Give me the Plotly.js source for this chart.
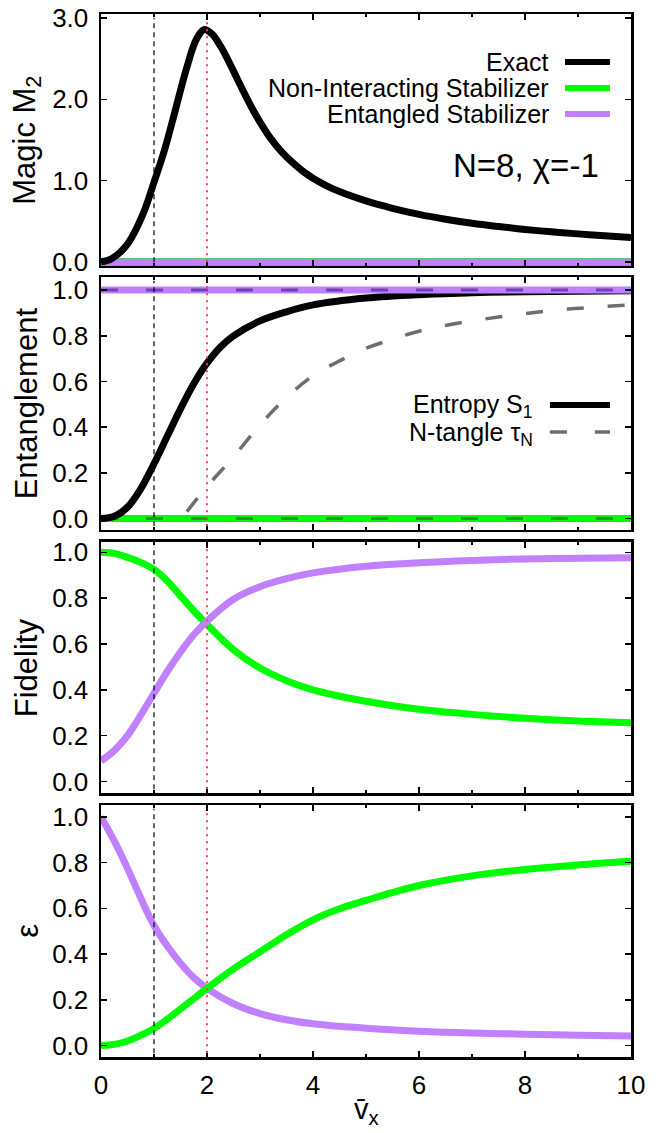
<!DOCTYPE html>
<html>
<head>
<meta charset="utf-8">
<script src="https://cdn.plot.ly/plotly-3.0.1.min.js"></script>
<style>html,body{margin:0;padding:0;background:#fff;}#chart{width:658px;height:1133px;}</style>
</head>
<body>
<div id="chart"></div>
<script>
// ---------- data ----------
const xFlat = [0, 10];
const stabZero = [0, 0];
const stabOne = [1, 1];
const refLines = [1, 2];

// Panel 1: Magic M2 (exact)
const xMagic = [0, 0.2, 0.5, 0.8, 1.0, 1.2, 1.4, 1.6, 1.8, 1.95, 2.1, 2.25, 2.4, 2.55, 2.7, 2.85, 3.0, 3.2, 3.4, 3.6, 3.8, 4.0, 4.25, 4.5, 5.0, 5.5, 6.0, 6.5, 7.0, 7.5, 8.0, 8.5, 9.0, 9.5, 10];
const magicExact = [0, 0.04, 0.22, 0.6, 0.98, 1.38, 1.86, 2.35, 2.74, 2.86, 2.80, 2.66, 2.48, 2.28, 2.08, 1.89, 1.72, 1.52, 1.36, 1.23, 1.12, 1.03, 0.94, 0.865, 0.75, 0.66, 0.585, 0.525, 0.475, 0.435, 0.40, 0.37, 0.345, 0.322, 0.30];

// Panel 2: Entanglement
const xEntropy = [0, 0.25, 0.5, 0.75, 1, 1.25, 1.5, 1.75, 2, 2.25, 2.5, 3, 3.5, 4, 5, 6, 7, 8, 10];
const entropyExact = [0, 0.01, 0.05, 0.13, 0.24, 0.36, 0.48, 0.59, 0.68, 0.75, 0.80, 0.865, 0.905, 0.935, 0.965, 0.98, 0.988, 0.993, 0.997];
const xTangle = [1.62, 2, 2.5, 3, 3.5, 4, 4.5, 5, 5.5, 6, 6.5, 7, 7.5, 8, 8.5, 9, 9.5, 10];
const tangleExact = [0.03, 0.14, 0.27, 0.41, 0.53, 0.625, 0.69, 0.745, 0.785, 0.82, 0.845, 0.865, 0.882, 0.897, 0.91, 0.92, 0.928, 0.935];

// Panel 3: Fidelity
const xFid = [0, 0.25, 0.5, 0.75, 1, 1.25, 1.5, 1.75, 2, 2.5, 3, 3.5, 4, 5, 6, 7, 8, 9, 10];
const fidNonInt = [1.0, 0.995, 0.978, 0.956, 0.925, 0.875, 0.81, 0.745, 0.685, 0.575, 0.495, 0.44, 0.40, 0.35, 0.315, 0.293, 0.276, 0.264, 0.257];
const fidEnt = [0.09, 0.135, 0.2, 0.29, 0.385, 0.48, 0.565, 0.64, 0.70, 0.795, 0.85, 0.885, 0.91, 0.939, 0.954, 0.964, 0.971, 0.974, 0.976];

// Panel 4: epsilon
const xEps = [0, 0.25, 0.5, 0.75, 1, 1.25, 1.5, 1.75, 2, 2.5, 3, 3.5, 4, 4.5, 5, 6, 7, 8, 9, 10];
const epsNonInt = [0.0, 0.005, 0.02, 0.045, 0.075, 0.115, 0.16, 0.205, 0.25, 0.335, 0.41, 0.485, 0.55, 0.598, 0.635, 0.70, 0.742, 0.77, 0.79, 0.806];
const epsEnt = [1.0, 0.895, 0.775, 0.645, 0.525, 0.435, 0.36, 0.297, 0.25, 0.183, 0.14, 0.113, 0.095, 0.084, 0.076, 0.063, 0.055, 0.05, 0.045, 0.042];

// ---------- styles ----------
const GREEN = '#00ff00';
const PURPLE = '#c080ff';
const DKGREEN = '#2f8f2f';
const DKPURPLE = '#6a44b4';
const GRAY = '#6e6e6e';
const FONT = 'Liberation Sans, Arial, Helvetica, sans-serif';
const LW = 7;

function line(x, y, ax, color, width, dash, spline) {
  return {x: x, y: y, xaxis: 'x' + ax, yaxis: 'y' + ax, mode: 'lines', type: 'scatter',
    line: {color: color, width: width, dash: dash || 'solid', shape: spline ? 'spline' : 'linear', smoothing: 1},
    hoverinfo: 'skip', showlegend: false};
}

const traces = [
  // panel 1
  line(xFlat, stabZero, '', GREEN, LW + 1),
  line(xFlat, stabZero, '', PURPLE, LW),
  line(xMagic, magicExact, '', 'black', 7, null, true),
  // panel 2
  line(xFlat, stabZero, '2', GREEN, LW),
  line(xFlat, stabZero, '2', DKGREEN, 3, '17px,28px'),
  line(xTangle, tangleExact, '2', GRAY, 3.5, '17px,24px', true),
  line(xEntropy, entropyExact, '2', 'black', 7, null, true),
  line(xFlat, stabOne, '2', PURPLE, LW),
  line(xFlat, stabOne, '2', DKPURPLE, 3, '17px,28px'),
  // panel 3
  line(xFid, fidNonInt, '3', GREEN, LW, null, true),
  line(xFid, fidEnt, '3', PURPLE, LW, null, true),
  // panel 4
  line(xEps, epsEnt, '4', PURPLE, LW, null, true),
  line(xEps, epsNonInt, '4', GREEN, LW, null, true)
];

const tickFont = {family: FONT, size: 26, color: 'black'};

function xax(show, anchor) {
  return {range: [0, 10], dtick: 2, tick0: 0, ticks: 'inside', ticklen: 6, tickwidth: 1.5, tickcolor: 'black',
    minor: {dtick: 1, tick0: 0, ticks: 'inside', ticklen: 3, tickwidth: 1.5, tickcolor: 'black'},
    showline: true, linewidth: 2.5, linecolor: 'black', mirror: 'ticks', showgrid: false, zeroline: false,
    showticklabels: show, tickfont: tickFont, ticklabelstandoff: 3, anchor: anchor,
    matches: anchor === 'y' ? undefined : 'x'};
}
function yax(range, dtick, domain, anchor) {
  return {range: range, dtick: dtick, tick0: 0, tickformat: '.1f', ticks: 'inside', ticklen: 6, tickwidth: 1.5,
    tickcolor: 'black', showline: true, linewidth: 2.5, linecolor: 'black', mirror: 'ticks', showgrid: false,
    zeroline: false, tickfont: tickFont, ticklabelstandoff: 5, domain: domain, anchor: anchor};
}

const layout = {
  width: 658, height: 1133,
  margin: {l: 101, r: 27, t: 14, b: 76},
  paper_bgcolor: 'white', plot_bgcolor: 'white',
  font: {family: FONT, color: 'black'},
  showlegend: false,
  xaxis: xax(false, 'y'),
  xaxis2: xax(false, 'y2'),
  xaxis3: xax(false, 'y3'),
  xaxis4: xax(true, 'y4'),
  yaxis: yax([-0.05, 3.05], 1, [0.7584, 1.0], 'x'),
  yaxis2: yax([-0.05, 1.057], 0.2, [0.5053, 0.7478], 'x2'),
  yaxis3: yax([-0.05, 1.045], 0.2, [0.2531, 0.4938], 'x3'),
  yaxis4: yax([-0.05, 1.052], 0.2, [0.0, 0.2416], 'x4'),
  shapes: [],
  annotations: []
};

// reference vertical lines in every panel
['', '2', '3', '4'].forEach(function (ax) {
  layout.shapes.push({type: 'line', xref: 'x' + ax, yref: 'y' + ax + ' domain', x0: refLines[0], x1: refLines[0], y0: 0.015, y1: 0.985,
    line: {color: 'black', width: 1.2, dash: '5px,4px'}, layer: 'above'});
  layout.shapes.push({type: 'line', xref: 'x' + ax, yref: 'y' + ax + ' domain', x0: refLines[1], x1: refLines[1], y0: 0.015, y1: 0.985,
    line: {color: '#ff4545', width: 2, dash: '2px,5px'}, layer: 'above'});
});

// y-axis titles
const yTitles = ['Magic M<sub>2</sub>', 'Entanglement', 'Fidelity', 'ε'];
['', '2', '3', '4'].forEach(function (ax, i) {
  layout.annotations.push({text: yTitles[i], xref: 'paper', yref: 'y' + ax + ' domain', x: -0.14, y: 0.5,
    xanchor: 'center', yanchor: 'middle', textangle: -90, showarrow: false,
    font: {family: FONT, size: 31, color: 'black'}});
});
// x-axis title
layout.annotations.push({text: 'v̄<sub>x</sub>', xref: 'x4 domain', yref: 'paper', x: 0.5, y: -0.052,
  xanchor: 'center', yanchor: 'middle', showarrow: false, font: {family: FONT, size: 29, color: 'black'}});

// panel 1 legend
const leg1 = [['Exact', 'black', 0.8095], ['Non-Interacting Stabilizer', GREEN, 0.7063], ['Entangled Stabilizer', PURPLE, 0.603]];
leg1.forEach(function (l) {
  layout.annotations.push({text: l[0], xref: 'x domain', yref: 'y domain', x: 0.849, y: l[2], xanchor: 'right', yanchor: 'middle',
    showarrow: false, font: {family: FONT, size: 25, color: 'black'}});
  layout.shapes.push({type: 'line', xref: 'x domain', yref: 'y domain', x0: 0.8755, x1: 0.9604, y0: l[2], y1: l[2],
    line: {color: l[1], width: 6}});
});
layout.annotations.push({text: 'N=8, χ=-1', xref: 'x domain', yref: 'y domain', x: 0.944, y: 0.40, xanchor: 'right', yanchor: 'middle',
  showarrow: false, font: {family: FONT, size: 33, color: 'black'}});

// panel 2 legend
layout.annotations.push({text: 'Entropy S<sub>1</sub>', xref: 'x2 domain', yref: 'y2 domain', x: 0.818, y: 0.49, xanchor: 'right', yanchor: 'middle',
  showarrow: false, font: {family: FONT, size: 25, color: 'black'}});
layout.shapes.push({type: 'line', xref: 'x2 domain', yref: 'y2 domain', x0: 0.847, x1: 0.9604, y0: 0.494, y1: 0.494,
  line: {color: 'black', width: 6}});
layout.annotations.push({text: 'N-tangle τ<sub>N</sub>', xref: 'x2 domain', yref: 'y2 domain', x: 0.818, y: 0.38, xanchor: 'right', yanchor: 'middle',
  showarrow: false, font: {family: FONT, size: 25, color: 'black'}});
layout.shapes.push({type: 'line', xref: 'x2 domain', yref: 'y2 domain', x0: 0.847, x1: 0.9604, y0: 0.387, y1: 0.387,
  line: {color: GRAY, width: 3.5, dash: '17px,28px'}});

Plotly.newPlot('chart', traces, layout, {staticPlot: true, displayModeBar: false});
</script>
</body>
</html>
